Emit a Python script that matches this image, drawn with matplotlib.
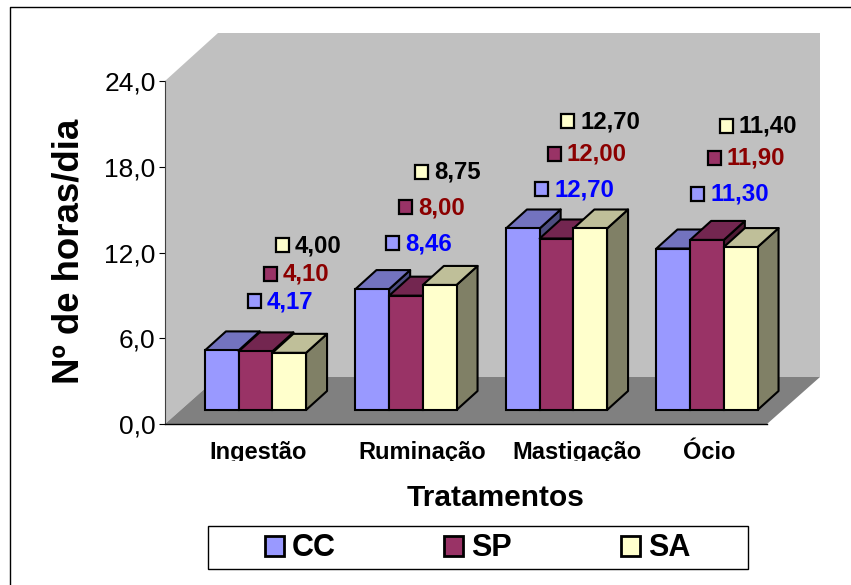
import matplotlib
matplotlib.use("Agg")
import matplotlib.pyplot as plt
from matplotlib.patches import Polygon, Rectangle, Patch
from matplotlib.transforms import Affine2D, Bbox

categories = ["Ingestão", "Ruminação", "Mastigação", "Ócio"]
series_names = ["CC", "SP", "SA"]
cc_values = [4.17, 8.46, 12.70, 11.30]
sp_values = [4.10, 8.00, 12.00, 11.90]
sa_values = [4.00, 8.75, 12.70, 11.40]
y_ticks = [0, 6, 12, 18, 24]
series_values = [cc_values, sp_values, sa_values]

# styles / layout (pixels of the 851x585 picture)
W, H = 851, 585
front = ["#9999FF", "#993366", "#FFFFCC"]
top = ["#7373BF", "#732650", "#BFBF99"]
side = ["#4D4D80", "#4D1A33", "#808066"]
label_col = ["#0000FF", "#8B0000", "#000000"]
AX_L, AX_R, AX_T, AX_B = 165, 767, 81, 424
DX_W, DY_W = 53, 47
BAR_W, BAR_DX, BAR_DY = 33.7, 21, 19
GROUP_STEP, FIRST_CENTER = 150.5, 255.5
BASE_PX = 14
EDGE = 1.5
label_xc = [258, 422, 577, 709.5]
key_pos = [
    [(254, 301), (270, 274), (282, 245)],
    [(392, 243), (405, 207), (421, 172)],
    [(541, 189), (554, 154), (567, 121)],
    [(697, 194), (714, 158), (726, 126)],
]

plt.rcParams["font.family"] = ["Liberation Sans", "DejaVu Sans"]
fig = plt.figure(figsize=(W / 100, H / 100), dpi=100, facecolor="white")
px = Affine2D().scale(1, -1).translate(0, H) + Affine2D().scale(fig.dpi / 100)

ax = fig.add_axes([AX_L / W, 1 - AX_B / H, (AX_R - AX_L) / W, (AX_B - AX_T) / H])
ax.patch.set_visible(False)
xmin = (AX_L - FIRST_CENTER) / GROUP_STEP
xmax = (AX_R - FIRST_CENTER) / GROUP_STEP
ax.set_xlim(xmin, xmax)
ax.set_ylim(y_ticks[0], y_ticks[-1])
py = (AX_B - AX_T) / y_ticks[-1]      # pixels per hour
pxu = GROUP_STEP                      # pixels per category

# outer chart border
fig.add_artist(plt.Line2D([9.5, 9.5, W], [H, 7, 7], transform=px, color="black", lw=1.0))

# wall and floor
fig.add_artist(Polygon([(AX_L, AX_T), (AX_L + DX_W, AX_T - 48), (AX_R + DX_W, AX_T - 48),
                        (AX_R + DX_W, AX_B - DY_W), (AX_L + DX_W, AX_B - DY_W), (AX_L, AX_B)],
                       closed=True, transform=px, fc="#C0C0C0", ec="none", zorder=-5))
fig.add_artist(Polygon([(AX_L, AX_B), (AX_R, AX_B), (AX_R + DX_W, AX_B - DY_W), (AX_L + DX_W, AX_B - DY_W)],
                       closed=True, transform=px, fc="#808080", ec="none", zorder=-4))

# 3D bars
base = BASE_PX / py
w = BAR_W / pxu
ddx, ddy = BAR_DX / pxu, BAR_DY / py
for c in range(len(categories)):
    for s, vals in enumerate(series_values):
        v = vals[c]
        x0 = c + (s - 1.5) * w
        z = 10 + c * 10 + s
        ytop = base + v
        kw = dict(ec="black", lw=EDGE, clip_on=False, joinstyle="round")
        ax.add_patch(Polygon([(x0 + w, base), (x0 + w + ddx, base + ddy), (x0 + w + ddx, ytop + ddy), (x0 + w, ytop)],
                             fc=side[s], zorder=z, **kw))
        ax.add_patch(Polygon([(x0, ytop), (x0 + ddx, ytop + ddy), (x0 + w + ddx, ytop + ddy), (x0 + w, ytop)],
                             fc=top[s], zorder=z, **kw))
        ax.bar(x0, v, w, bottom=base, align="edge", color=front[s], edgecolor="black",
               linewidth=EDGE, zorder=z + 0.5, clip_on=False)

# data labels with legend keys
for c in range(len(categories)):
    for s, vals in enumerate(series_values):
        kx, ky = key_pos[c][s]
        fig.add_artist(Rectangle((kx - 6.5, ky - 7), 13, 14, transform=px, fc=front[s], ec="black", lw=1.6, zorder=50))
        fig.text(kx + 13, ky + 0.5, f"{vals[c]:.2f}".replace(".", ","), transform=px, color=label_col[s],
                 fontsize=17.3, fontweight="bold", ha="left", va="center", zorder=51)

# axes
for sp in ["top", "right"]:
    ax.spines[sp].set_visible(False)
ax.spines["left"].set_color("#404040")
ax.spines["left"].set_linewidth(0.8)
ax.spines["bottom"].set_linewidth(1.0)
ax.set_yticks(y_ticks)
ax.set_yticklabels([f"{t:.1f}".replace(".", ",") for t in y_ticks], fontsize=19)
ax.tick_params(axis="y", length=4.3, width=0.8, pad=2.5)
ax.set_xticks([(x - FIRST_CENTER) / GROUP_STEP for x in label_xc])
ax.set_xticklabels(categories, fontsize=17, fontweight="bold")
ax.tick_params(axis="x", length=0, pad=12)
clip = Bbox([[0, H - 461], [W, H]])
for t in ax.get_xticklabels():
    t.set_clip_box(clip)
    t.set_clip_on(True)

# axis titles
fig.text(69, 251, "Nº de horas/dia", transform=px, rotation=90, fontsize=26.4, fontweight="bold",
         ha="center", va="center")
fig.text(496, 498, "Tratamentos", transform=px, fontsize=21.5, fontweight="bold", ha="center", va="center")

# legend
fig.add_artist(Rectangle((208, 526), 540, 43, transform=px, fc="white", ec="black", lw=1.0, zorder=60))
leg = fig.legend(handles=[Patch(fc=front[i], ec="black", lw=2.0, label=series_names[i]) for i in range(3)],
                 ncols=3, loc="center", bbox_to_anchor=(477.5 / W, 1 - 548.5 / H), frameon=False,
                 prop={"weight": "bold", "size": 22}, handlelength=0.62, handleheight=0.62,
                 handletextpad=0.27, columnspacing=3.55, borderpad=0)
leg.set_zorder(61)

fig.savefig("out.png", dpi=100)
